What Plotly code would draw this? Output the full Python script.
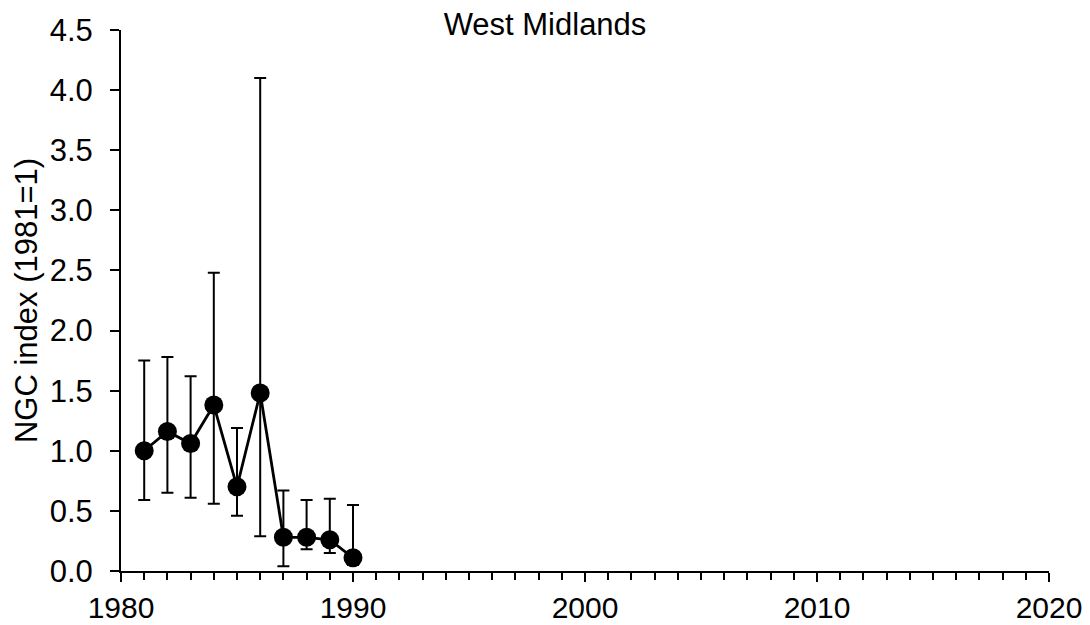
import plotly.graph_objects as go

years = [1981, 1982, 1983, 1984, 1985, 1986, 1987, 1988, 1989, 1990]
index_values = [1.00, 1.16, 1.06, 1.38, 0.70, 1.48, 0.28, 0.28, 0.26, 0.11]
upper_ci = [1.75, 1.78, 1.62, 2.48, 1.19, 4.10, 0.67, 0.59, 0.60, 0.55]
lower_ci = [0.59, 0.65, 0.61, 0.56, 0.46, 0.29, 0.04, 0.18, 0.15, 0.05]
title_text = "West Midlands"
y_title = "NGC index (1981=1)"

err_plus = [u - v for u, v in zip(upper_ci, index_values)]
err_minus = [v - l for v, l in zip(index_values, lower_ci)]

FONT = "Liberation Sans, Arial, sans-serif"

fig = go.Figure()
fig.add_trace(go.Scatter(
    x=years, y=index_values, mode="lines+markers",
    line=dict(color="black", width=2.8),
    marker=dict(color="black", size=19),
    error_y=dict(type="data", symmetric=False, array=err_plus, arrayminus=err_minus,
                 color="black", thickness=2, width=6),
    cliponaxis=False,
    showlegend=False,
))

fig.update_layout(
    width=1090, height=625,
    margin=dict(l=121, r=41, t=30, b=54),
    paper_bgcolor="white", plot_bgcolor="white",
    font=dict(family=FONT, size=31, color="black"),
    title=dict(text=title_text, x=0.5, xref="container", xanchor="center",
               y=1 - 24 / 625, yref="container", yanchor="middle",
               font=dict(family=FONT, size=31, color="black")),
)
fig.update_xaxes(
    range=[1980, 2020], dtick=10, tick0=1980,
    showline=True, linecolor="black", linewidth=2,
    ticks="outside", ticklen=9, tickwidth=2, tickcolor="black",
    minor=dict(dtick=1, ticks="outside", ticklen=7, tickwidth=1.5, tickcolor="black"),
    showgrid=False, zeroline=False, automargin=False,
    tickfont=dict(family=FONT, size=30),
)
fig.update_yaxes(
    range=[0, 4.5], dtick=0.5, tick0=0, tickformat=".1f",
    showline=True, linecolor="black", linewidth=2,
    ticks="outside", ticklen=9, tickwidth=1.5, tickcolor="black",
    showgrid=False, zeroline=False, automargin=False,
    ticklabelstandoff=11,
    tickfont=dict(family=FONT, size=31),
    title=dict(text=y_title, font=dict(family=FONT, size=31), standoff=3),
)

fig.write_html("out.html")
